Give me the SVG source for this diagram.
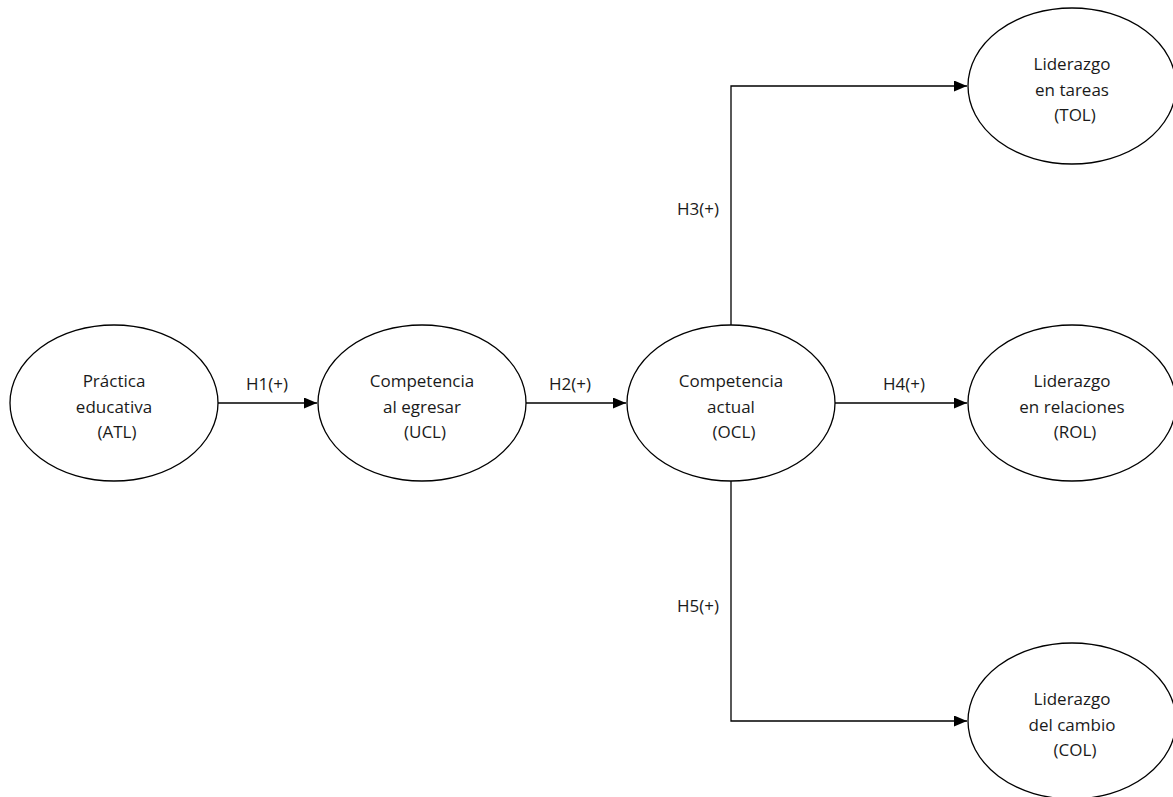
<svg xmlns="http://www.w3.org/2000/svg" width="1173" height="797" viewBox="0 0 1173 797">
<style>
.n ellipse{fill:#fff;stroke:#000;stroke-width:1.3}
text{font-family:"Open Sans","Noto Sans",sans-serif;font-size:17px;fill:#1a1a1a;text-anchor:middle}
.c path{fill:none;stroke:#000;stroke-width:1.3}
</style>
<defs>
<marker id="ah" markerWidth="13" markerHeight="11" refX="13" refY="5.5" orient="auto" markerUnits="userSpaceOnUse">
<path d="M0,0 L13,5.5 L0,11 Z" fill="#000"/>
</marker>
</defs>
<rect width="1173" height="797" fill="#fff"/>
<g class="c" id="connectors">
<path d="M218,403 L317,403" marker-end="url(#ah)"/>
<path d="M526,403 L626,403" marker-end="url(#ah)"/>
<path d="M835,403 L967,403" marker-end="url(#ah)"/>
<path d="M731,325 L731,86 L967,86" marker-end="url(#ah)"/>
<path d="M731,481 L731,721 L967,721" marker-end="url(#ah)"/>
</g>
<g id="labels">
<text x="267" y="390">H1(+)</text>
<text x="570" y="390">H2(+)</text>
<text x="904" y="390">H4(+)</text>
<text x="698" y="215">H3(+)</text>
<text x="698" y="612">H5(+)</text>
</g>
<g class="n" id="ATL"><ellipse cx="114" cy="403" rx="104" ry="78"/><text x="114" y="387">Práctica</text><text x="114" y="413">educativa</text><text x="117" y="438">(ATL)</text></g>
<g class="n" id="UCL"><ellipse cx="422" cy="403" rx="104" ry="78"/><text x="422" y="387">Competencia</text><text x="422" y="413">al egresar</text><text x="425" y="438">(UCL)</text></g>
<g class="n" id="OCL"><ellipse cx="731" cy="403" rx="104" ry="78"/><text x="731" y="387">Competencia</text><text x="731" y="413">actual</text><text x="734" y="438">(OCL)</text></g>
<g class="n" id="TOL"><ellipse cx="1072" cy="86" rx="104" ry="78"/><text x="1072" y="70">Liderazgo</text><text x="1072" y="96">en tareas</text><text x="1075" y="121">(TOL)</text></g>
<g class="n" id="ROL"><ellipse cx="1072" cy="403" rx="104" ry="78"/><text x="1072" y="387">Liderazgo</text><text x="1072" y="413">en relaciones</text><text x="1075" y="438">(ROL)</text></g>
<g class="n" id="COL"><ellipse cx="1072" cy="721" rx="104" ry="78"/><text x="1072" y="705">Liderazgo</text><text x="1072" y="731">del cambio</text><text x="1075" y="756">(COL)</text></g>
</svg>
